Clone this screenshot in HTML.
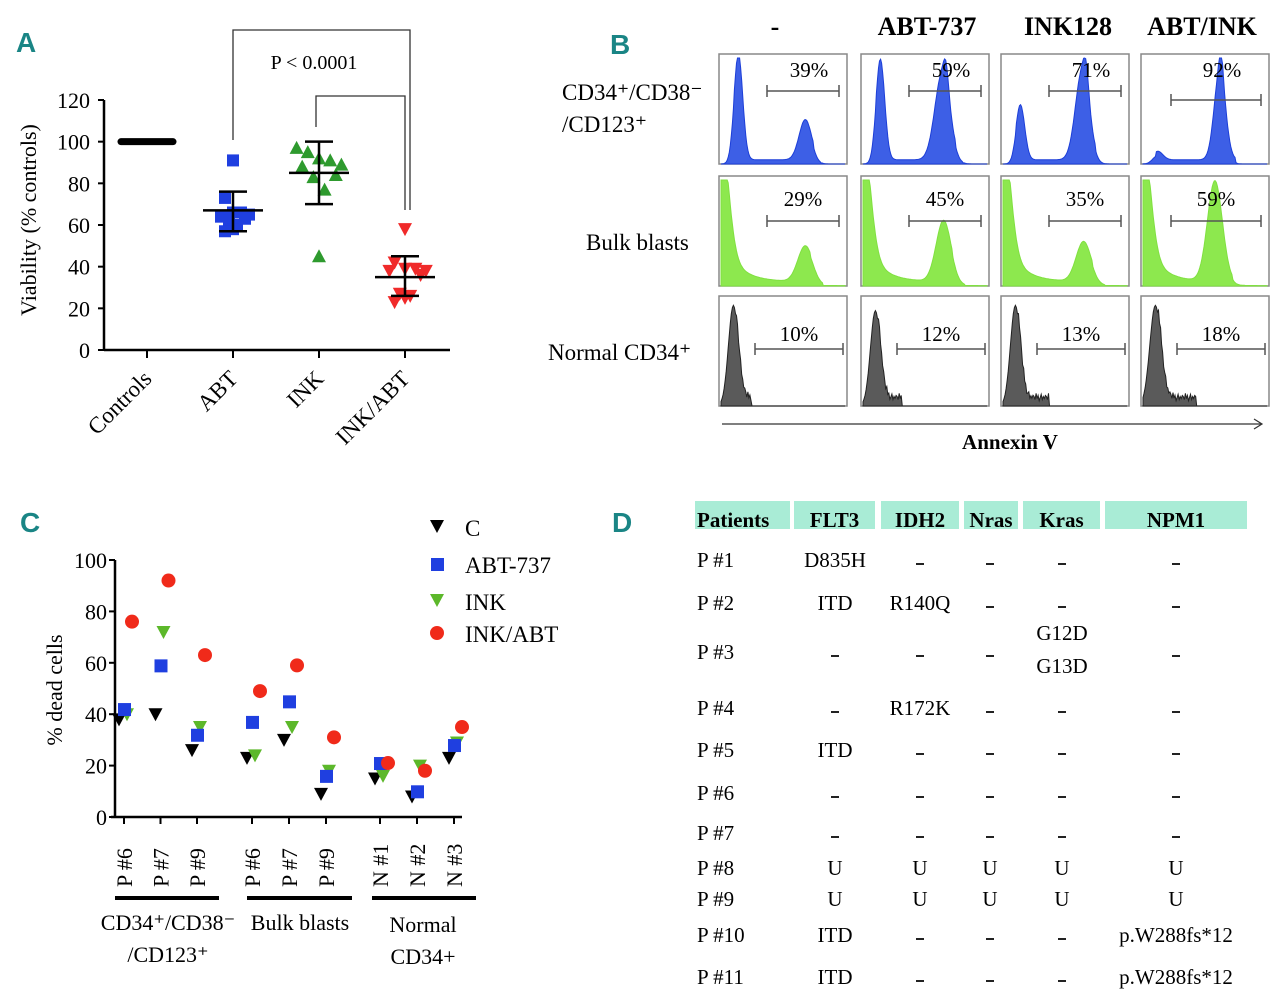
<!DOCTYPE html>
<html><head><meta charset="utf-8">
<style>
html,body{margin:0;padding:0;background:#fff;}
svg{display:block;font-family:"Liberation Serif",serif;}
.lt{font-family:"Liberation Sans",sans-serif;font-weight:bold;fill:#1a8585;}
</style></head>
<body>
<svg id="fig" width="1280" height="1003" viewBox="0 0 1280 1003" xmlns="http://www.w3.org/2000/svg">
<text class="lt" x="16" y="52" font-size="28">A</text>
<text class="lt" x="610" y="54" font-size="28">B</text>
<text class="lt" x="20" y="532" font-size="28">C</text>
<text class="lt" x="612" y="532" font-size="28">D</text>
<g id="pa"></g>
<g id="pb"></g>
<g id="pc"></g>
<g id="pd"></g>
</svg>
<script>
// ---------- Panel A data ----------
const aCategories = ["Controls","ABT","INK","INK/ABT"];
const aAbt = [91,73,66,66,65,64,63,62,60,58,57,66];
const aInk = [97,95,92,91,89,88,84,83,77,45];
const aInkAbt = [58,42,39,39,38,38,36,27,26,25,23];
const aMeans = [100,67,85,35];
const aSdHi = [100,76,100,45];
const aSdLo = [100,57,70,26];
const aTicks = [0,20,40,60,80,100,120];
// ---------- Panel C data ----------
const cCategories = ["P #6","P #7","P #9","P #6","P #7","P #9","N #1","N #2","N #3"];
const cC = [38,40,26,23,30,9,15,8,23];
const cAbt = [42,59,32,37,45,16,21,10,28];
const cInk = [40,72,35,24,35,18,16,20,29];
const cInkAbt = [76,92,63,49,59,31,21,18,35];
const cTicks = [0,20,40,60,80,100];
// ---------- Panel B data ----------
const bCols = ["-","ABT-737","INK128","ABT/INK"];
const bRows = ["CD34+/CD38-/CD123+","Bulk blasts","Normal CD34+"];
const bPct = [["39%","59%","71%","92%"],["29%","45%","35%","59%"],["10%","12%","13%","18%"]];
// peaks: [position, height, width] (relative units)
const bPeaks = [
 [[[0.14,1.0,0.035],[0.68,0.38,0.05]],[[0.14,0.95,0.035],[0.64,0.82,0.06],[0.67,0.2,0.02]],[[0.14,0.52,0.035],[0.64,0.85,0.055],[0.67,0.2,0.02]],[[0.12,0.08,0.04],[0.62,0.85,0.045],[0.63,0.2,0.015]]],
 [[[0.0,0.95,0.06],[0.68,0.34,0.06]],[[0.0,0.92,0.06],[0.65,0.58,0.06]],[[0.0,0.95,0.06],[0.65,0.38,0.06]],[[0.0,0.92,0.06],[0.58,0.95,0.06]]],
 [[[0.1,0.95,0.04]],[[0.1,0.9,0.04]],[[0.1,0.95,0.04]],[[0.1,0.95,0.045]]]
];
const bTailNoise = [0.05,0.02,0.08,0.03,0.06,0.01,0.04,0.07,0.02,0.05,0.03,0.06];
// ---------- Panel D data ----------
const dHeaders = ["Patients","FLT3","IDH2","Nras","Kras","NPM1"];
const dRows = [
 ["P #1","D835H","-","-","-","-"],
 ["P #2","ITD","R140Q","-","-","-"],
 ["P #3","-","-","-","G12D|G13D","-"],
 ["P #4","-","R172K","-","-","-"],
 ["P #5","ITD","-","-","-","-"],
 ["P #6","-","-","-","-","-"],
 ["P #7","-","-","-","-","-"],
 ["P #8","U","U","U","U","U"],
 ["P #9","U","U","U","U","U"],
 ["P #10","ITD","-","-","-","p.W288fs*12"],
 ["P #11","ITD","-","-","-","p.W288fs*12"]
];
const dRowY = [560,603,652,708,750,793,833,868,899,935,977];

const NS="http://www.w3.org/2000/svg";
function mk(parent,tag,attrs,text){const e=document.createElementNS(NS,tag);for(const k in attrs)e.setAttribute(k,attrs[k]);if(text!==undefined)e.textContent=text;parent.appendChild(e);return e;}

// ===== Panel A =====
(function(){
const g=document.getElementById('pa');
const x0=104,xEnd=450,yb=350,yt=100;
const ay=v=>yb-(v/120)*(yb-yt);
const ax=i=>147+i*86;
mk(g,'line',{x1:x0,y1:yt,x2:x0,y2:yb,stroke:'#000','stroke-width':2.5});
mk(g,'line',{x1:x0,y1:yb,x2:xEnd,y2:yb,stroke:'#000','stroke-width':2.5});
aTicks.forEach(t=>{
 mk(g,'line',{x1:x0-6,y1:ay(t),x2:x0,y2:ay(t),stroke:'#000','stroke-width':2});
 const tl=mk(g,'text',{x:x0-14,y:ay(t)+8,'font-size':22,'text-anchor':'end'},t);
 
 
});
aCategories.forEach((c,i)=>{
 mk(g,'line',{x1:ax(i),y1:yb,x2:ax(i),y2:yb+8,stroke:'#000','stroke-width':2});
 const tl=mk(g,'text',{x:ax(i)+6,y:yb+30,'font-size':23,'text-anchor':'end',transform:`rotate(-45 ${ax(i)+6} ${yb+30})`},c);
 
 
});
const yl=mk(g,'text',{x:0,y:0,'font-size':22,'text-anchor':'middle',transform:'translate(36 220) rotate(-90)'},'Viability (% controls)');


const cl=mk(g,'line',{x1:ax(0)-26,y1:ay(100),x2:ax(0)+26,y2:ay(100),stroke:'#000','stroke-width':7,'stroke-linecap':'round'});


const off=[-16,-8,0,8,16,-12,12,-4,4,0,-8,8];
aAbt.forEach((v,i)=>{const r=mk(g,'rect',{x:ax(1)+off[i%off.length]*(v>80?0:1)-6,y:ay(v)-6,width:12,height:12,fill:'#1f3fe0'});
 });
aInk.forEach((v,i)=>{const cx=ax(2)+(v<50?0:off[i%off.length]*1.4),cy=ay(v);
 const p=mk(g,'polygon',{points:`${cx},${cy-7} ${cx-7},${cy+6} ${cx+7},${cy+6}`,fill:'#2e9a2e'});
 });
aInkAbt.forEach((v,i)=>{const cx=ax(3)+(v>50?0:off[i%off.length]*1.3),cy=ay(v);
 const p=mk(g,'polygon',{points:`${cx-7},${cy-6} ${cx+7},${cy-6} ${cx},${cy+7}`,fill:'#f02a2a'});
 });
[1,2,3].forEach(i=>{
 const x=ax(i);
 const eb=mk(g,'g',{stroke:'#000','stroke-width':2.5});
 
 mk(eb,'line',{x1:x,y1:ay(aSdHi[i]),x2:x,y2:ay(aSdLo[i])});
 mk(eb,'line',{x1:x-14,y1:ay(aSdHi[i]),x2:x+14,y2:ay(aSdHi[i])});
 mk(eb,'line',{x1:x-14,y1:ay(aSdLo[i]),x2:x+14,y2:ay(aSdLo[i])});
 mk(eb,'line',{x1:x-30,y1:ay(aMeans[i]),x2:x+30,y2:ay(aMeans[i])});
});
const br=mk(g,'path',{d:`M${ax(1)} 140 V30 H410 V210 M${ax(2)-3} 127 V96 H405 V210`,fill:'none',stroke:'#333','stroke-width':1.3});

const pv=mk(g,'text',{x:314,y:69,'font-size':20,'text-anchor':'middle'},'P < 0.0001');

})();

// ===== Panel B =====
(function(){
const g=document.getElementById('pb');
const bx=[719,861,1001,1141],by=[54,176,296],bw=128,bh=110;
const hx=[775,927,1068,1202];
bCols.forEach((c,i)=>{const t=mk(g,'text',{x:hx[i],y:35,'font-size':26,'font-weight':'bold','text-anchor':'middle'},c);
 });
const rl=[[["CD34\u207A/CD38\u207B",562,100],["/CD123\u207A",562,132]],[["Bulk blasts",586,250]],[["Normal CD34\u207A",548,360]]];
rl.forEach(r=>r.forEach(([s,x,y])=>{const t=mk(g,'text',{x:x,y:y,'font-size':23},s);
 }));
const fills=[['#3d5fe6','#1d3fd8'],['#8de84e','#80e040'],['#5a5a5a','#222']];
bRows.forEach((row,r)=>{bCols.forEach((col,c)=>{
 const x=bx[c],y=by[r];
 const box=mk(g,'g',{});
 
 mk(box,'rect',{x:x,y:y,width:bw,height:bh,fill:'#fff',stroke:'#888','stroke-width':1.5});
 const N=120;let d=`M${x+2} ${y+bh}`;
 for(let k=0;k<=N;k++){const u=k/N;let v=0;
  bPeaks[r][c].forEach(([p,h,w])=>{v+=h*Math.exp(-0.5*((u-p)/w)**2);});
  if(r===1){const h0=bPeaks[r][c][0][1];v+=0.55*h0*Math.exp(-u/0.09)+0.1*h0*Math.exp(-u/0.3); v+=(u<0.72?0.03:0);}
  else if(r===0){v+=(u>0.1&&u<0.75?0.04:0);}
  else {if(u>0.12&&u<0.25+0.06*c) v+=0.04+bTailNoise[(k+c*3)%bTailNoise.length];}
  if(r===0&&u>0.8)v=Math.min(v,0.01);
  if(r===1&&u>0.82)v=Math.min(v,0.005);
  const px=x+2+u*(bw-4), py=y+bh-Math.min(v,1)*(bh-4);
  d+=` L${px.toFixed(1)} ${py.toFixed(1)}`;}
 d+=` L${x+bw-2} ${y+bh} Z`;
 mk(box,'path',{d:d,fill:fills[r][0],stroke:fills[r][1],'stroke-width':1});
 const gx1=x+(r===2?36:(c===3?30:48)), gx2=x+bw-(r===2?4:8), gy=y+(r===0?(c===3?46:37):(r===1?45:53));
 mk(box,'path',{d:`M${gx1} ${gy} H${gx2} M${gx1} ${gy-6} V${gy+6} M${gx2} ${gy-6} V${gy+6}`,stroke:'#555','stroke-width':1.5,fill:'none'});
 const pt=mk(box,'text',{x:(gx1+gx2)/2+ (r===0?6:0),y:y+(r===0?23:(r===1?30:45)),'font-size':21,'text-anchor':'middle'},bPct[r][c]);
 
});});
const ar=mk(g,'path',{d:'M722 424 H1262 M1254 419 L1262 424 L1254 429',stroke:'#333','stroke-width':1.2,fill:'none'});

const at=mk(g,'text',{x:1010,y:449,'font-size':21,'font-weight':'bold','text-anchor':'middle'},'Annexin V');

})();

// ===== Panel C =====
(function(){
const g=document.getElementById('pc');
const x0=115,xEnd=462,yb=817,yt=560;
const cy=v=>yb-(v/100)*(yb-yt);
const cxs=[124,161,197,252,290,326,380,416,454];
const cx=i=>cxs[0]+(i<3?i*36.5:(i<6?128+(i-3)*37:256+(i-6)*37));
mk(g,'line',{x1:x0,y1:yt,x2:x0,y2:yb,stroke:'#000','stroke-width':2.5});
mk(g,'line',{x1:x0-4,y1:yb,x2:xEnd,y2:yb,stroke:'#000','stroke-width':2.5});
cTicks.forEach(t=>{
 mk(g,'line',{x1:x0-6,y1:cy(t),x2:x0,y2:cy(t),stroke:'#000','stroke-width':2});
 const tl=mk(g,'text',{x:x0-8,y:cy(t)+8,'font-size':22,'text-anchor':'end'},t);
 
});
cCategories.forEach((c,i)=>{
 mk(g,'line',{x1:cx(i),y1:yb,x2:cx(i),y2:yb+7,stroke:'#000','stroke-width':2});
 const tl=mk(g,'text',{x:0,y:0,'font-size':22,'text-anchor':'start',transform:`translate(${cx(i)+8} 887) rotate(-90)`},c);
 
});
const yl=mk(g,'text',{x:0,y:0,'font-size':22,'text-anchor':'middle',transform:'translate(62 690) rotate(-90)'},'% dead cells');

[[115,219],[247,352],[372,476]].forEach((s,i)=>{
 const l=mk(g,'line',{x1:s[0],y1:898,x2:s[1],y2:898,stroke:'#000','stroke-width':4});
 
});
const gl=[["CD34\u207A/CD38\u207B",168,930],["/CD123\u207A",168,962],["Bulk blasts",300,930],["Normal",423,932],["CD34+",423,964]];
gl.forEach(([s,x,y])=>{const t=mk(g,'text',{x:x,y:y,'font-size':22,'text-anchor':'middle'},s);
 });
function tri(x,y,col,down){return down?`${x-7},${y-6} ${x+7},${y-6} ${x},${y+7}`:`${x},${y-7} ${x-7},${y+6} ${x+7},${y+6}`;}
cC.forEach((v,i)=>{const p=mk(g,'polygon',{points:tri(cx(i)-5,cy(v),'#000',true),fill:'#000'});
 });
cInk.forEach((v,i)=>{const p=mk(g,'polygon',{points:tri(cx(i)+3,cy(v),'',true),fill:'#5cb82a'});
 });
cAbt.forEach((v,i)=>{const r=mk(g,'rect',{x:cx(i)-6,y:cy(v)-6,width:13,height:13,fill:'#1f3fe0'});
 });
cInkAbt.forEach((v,i)=>{const c=mk(g,'circle',{cx:cx(i)+8,cy:cy(v),r:7,fill:'#f02a1a'});
 });
const lg=mk(g,'g',{});

mk(lg,'polygon',{points:tri(437,526,'',true),fill:'#000'});
mk(lg,'rect',{x:431,y:558,width:13,height:13,fill:'#1f3fe0'});
mk(lg,'polygon',{points:tri(437,600,'',true),fill:'#5cb82a'});
mk(lg,'circle',{cx:437,cy:633,r:7,fill:'#f02a1a'});
[["C",536],["ABT-737",573],["INK",610],["INK/ABT",642]].forEach(([s,y])=>{
 const t=mk(lg,'text',{x:465,y:y,'font-size':23},s);
 });
})();

// ===== Panel D =====
(function(){
const g=document.getElementById('pd');
const hx=[[695,790],[794,875],[881,959],[964,1018],[1023,1100],[1105,1247]];
const colX=[697,835,920,990,1062,1176];
dHeaders.forEach((h,i)=>{
 mk(g,'rect',{x:hx[i][0],y:501,width:hx[i][1]-hx[i][0],height:28,fill:'#a9ecd6'});
 const t=mk(g,'text',{x:i===0?697:(hx[i][0]+hx[i][1])/2,y:527,'font-size':21,'font-weight':'bold','text-anchor':i===0?'start':'middle'},h);
 
});
dRows.forEach((row,r)=>{row.forEach((cell,c)=>{
 const y=dRowY[r]+7;
 if(cell.includes('|')){const [a,b]=cell.split('|');
  mk(g,'text',{x:colX[c],y:640,'font-size':21,'text-anchor':'middle'},a);
  mk(g,'text',{x:colX[c],y:673,'font-size':21,'text-anchor':'middle'},b);return;}
 if(cell==='-'){const l=mk(g,'line',{x1:colX[c]-4,y1:dRowY[r]+4,x2:colX[c]+4,y2:dRowY[r]+4,stroke:'#222','stroke-width':2});
  return;}
 const t=mk(g,'text',{x:colX[c],y:y,'font-size':21,'text-anchor':c===0?'start':'middle'},cell);
 
});});
})();
</script>
</body></html>
